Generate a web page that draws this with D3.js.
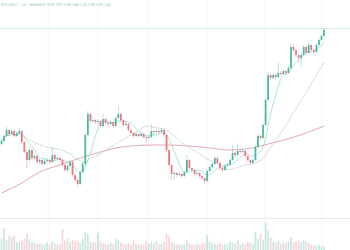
<!DOCTYPE html>
<html><head><meta charset="utf-8">
<script src="https://cdn.jsdelivr.net/npm/d3@7"></script>
<style>html,body{margin:0;padding:0;background:#fff;overflow:hidden}</style>
</head><body>
<svg id="c" width="350" height="250"></svg>
<script>
// OHLC values (arbitrary price units)
const opens  = [256,259,264,270,266,269,264,267,269,258,248,240,250,242,244,238,240,236,239,240,238,245,241,242,240,235,230,234,238,225,220,216,228,236,265,286,279,280,278,279,274,281,277,276,278,274,282,286,280,275,276,270,267,264,266,264,266,263,262,263,269,268,269,268,270,265,250,235,226,227,225,226,224,228,240,232,230,226,227,224,222,219,229,233,236,242,237,232,230,234,235,240,247,245,249,248,249,244,240,237,240,253,264,262,275,300,325,322,325,323,327,326,329,327,332,353,350,345,342,345,353,347,355,350,348,355,360,364];
const highs  = [261,266,273,271,271,270,269,272,270,259,250,253,251,246,245,242,241,241,242,241,253,246,244,243,241,236,236,240,239,226,222,230,238,267,289,287,283,281,281,280,286,282,279,280,279,284,294,287,281,278,277,271,268,268,267,268,267,264,265,276,270,271,270,272,271,266,251,236,229,228,228,227,230,245,241,233,231,229,228,225,223,231,235,238,244,243,238,233,236,237,242,255,249,257,250,251,250,245,241,242,255,266,266,277,302,328,327,327,326,337,329,331,330,334,356,355,351,346,347,355,354,357,356,351,357,362,366,372];
const lows   = [254,258,263,264,265,262,263,265,256,246,232,238,240,240,236,236,234,235,237,236,237,239,240,238,233,228,229,233,223,218,212,215,227,235,264,277,277,276,276,272,273,275,274,275,272,273,281,278,273,274,268,265,262,263,262,263,261,257,261,262,266,267,266,267,263,248,233,220,220,223,224,222,223,227,230,228,224,225,222,220,216,218,228,232,235,235,230,228,229,233,234,239,243,244,246,247,242,238,235,236,239,252,260,261,274,299,320,321,320,322,324,325,325,326,331,348,343,338,333,344,345,346,348,346,347,354,359,363];
const closes = [259,264,270,266,269,264,267,269,258,248,240,250,242,244,238,240,236,239,240,238,245,241,242,240,235,230,234,238,225,220,216,228,236,265,286,279,280,278,279,274,281,277,276,278,274,282,286,280,275,276,270,267,264,266,264,266,263,262,263,269,268,269,268,270,265,250,235,226,227,225,226,224,228,240,232,230,226,227,224,222,219,229,233,236,242,237,232,230,234,235,240,247,245,249,248,249,244,240,237,240,253,264,262,275,300,325,322,325,323,327,326,329,327,332,353,350,345,342,345,353,347,355,350,348,355,360,364,370];
const volumes = [40,78,35,50,46,52,30,28,34,40,60,38,30,26,22,24,20,22,26,18,30,24,20,22,75,34,43,28,36,30,32,26,40,64,57,30,26,28,60,30,24,22,20,26,22,42,34,26,22,20,24,18,36,20,22,18,20,34,22,30,22,32,20,22,30,60,52,28,24,20,22,18,20,34,24,20,18,22,20,24,26,53,30,24,22,20,26,18,22,20,30,28,22,34,20,24,22,30,26,24,64,40,57,36,100,70,46,30,26,34,22,28,24,30,46,26,30,34,28,36,30,28,20,16,14,18,14,12];
// long moving average (candle index -> value)
const longMaIdx = [0,8,15,23,31,39,45,51,59,66,74,82,90,96,102,108,114,120,127];
const longMaVal = [207,217,228,235,242,248,252,254,255,255,254,252,250,251,254,258,262,267,274];
const lastPrice = 372;
const headerText = "BTCUSDT · 1H · BINANCE  O29,732 H29,748 L29,726 C29,745";

const svg = d3.select("#c");
const W = 350, H = 250, paneBottom = 218;
const n = closes.length;
const x = d3.scaleLinear().domain([0, n - 1]).range([1.5, 324]);
const y = d3.scaleLinear().domain([182, 400]).range([paneBottom, 0]);
const vy = d3.scaleLinear().domain([0, 100]).range([250, 222]);

const UP = "#4dbba3", DN = "#ee7882";

// grid
const gridX = [48, 98, 148, 207, 265, 322];
svg.selectAll("line.gx").data(gridX).join("line")
  .attr("x1", d => d).attr("x2", d => d).attr("y1", 0).attr("y2", H)
  .attr("stroke", "#f5f6f8").attr("stroke-width", 1);
// pane separator
svg.append("line").attr("x1", 0).attr("x2", W).attr("y1", paneBottom + 0.5).attr("y2", paneBottom + 0.5)
  .attr("stroke", "#e6e8ec").attr("stroke-width", 1);
// last price line
svg.append("line").attr("x1", 0).attr("x2", W).attr("y1", Math.round(y(lastPrice)) + 0.5).attr("y2", Math.round(y(lastPrice)) + 0.5)
  .attr("stroke", "#d3ece8").attr("stroke-width", 1);

// header
svg.append("text").attr("x", 1).attr("y", 6).text(headerText)
  .attr("font-family", "DejaVu Sans, sans-serif").attr("font-size", 3.6).attr("fill", "#8cbdb6");

const idx = d3.range(n);
const sma = p => idx.map(i => { const s = closes.slice(Math.max(0, i - p + 1), i + 1); return d3.mean(s); });

// volume
const bw = 1.8;
svg.append("g").selectAll("rect").data(idx).join("rect")
  .attr("x", i => x(i) - bw / 2).attr("width", bw)
  .attr("y", i => vy(volumes[i])).attr("height", i => 250 - vy(volumes[i]))
  .attr("fill", i => closes[i] >= opens[i] ? UP : DN).attr("opacity", 0.3);

// moving averages
const line = d3.line().x(d => x(d[0])).y(d => y(d[1])).curve(d3.curveMonotoneX);
svg.append("path").attr("d", line(longMaIdx.map((d, k) => [d, longMaVal[k]])))
  .attr("fill", "none").attr("stroke", "#dc9ea8").attr("stroke-width", 0.9);
svg.append("path").attr("d", line(sma(25).map((v, i) => [i, v])))
  .attr("fill", "none").attr("stroke", "#c9d6cf").attr("stroke-width", 0.8);
svg.append("path").attr("d", line(sma(7).map((v, i) => [i, v])))
  .attr("fill", "none").attr("stroke", "#98dbcf").attr("stroke-width", 0.8);

// candles
const g = svg.append("g");
g.selectAll("line").data(idx).join("line")
  .attr("x1", i => x(i)).attr("x2", i => x(i))
  .attr("y1", i => y(highs[i])).attr("y2", i => y(lows[i]))
  .attr("stroke", i => closes[i] >= opens[i] ? UP : DN).attr("stroke-width", 0.6).attr("opacity", 0.7);
g.selectAll("rect").data(idx).join("rect")
  .attr("x", i => x(i) - bw / 2).attr("width", bw)
  .attr("y", i => y(Math.max(opens[i], closes[i])))
  .attr("height", i => Math.max(0.8, Math.abs(y(opens[i]) - y(closes[i]))))
  .attr("fill", i => closes[i] >= opens[i] ? UP : DN);
</script>
</body></html>
